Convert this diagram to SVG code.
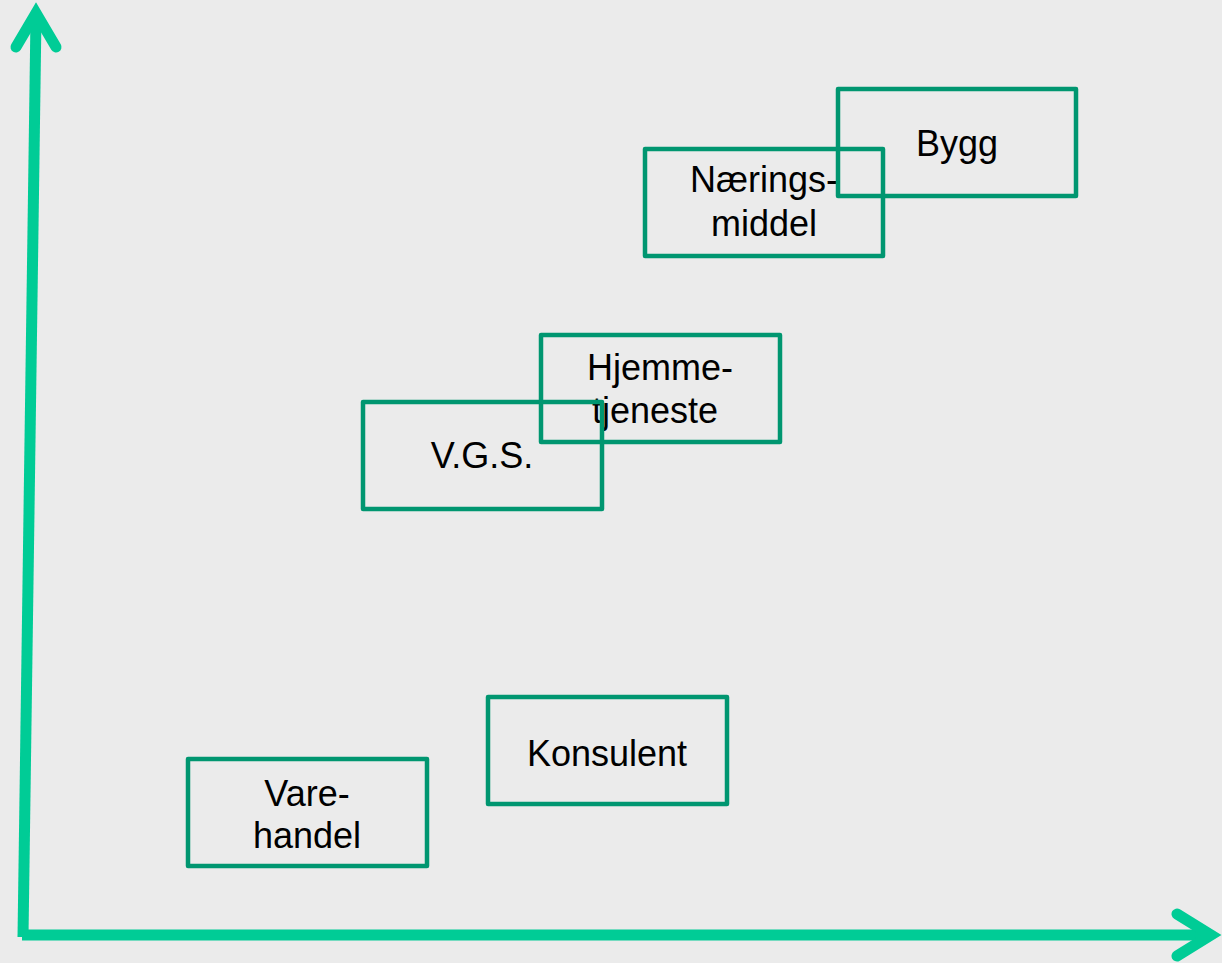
<svg xmlns="http://www.w3.org/2000/svg" width="1222" height="963" viewBox="0 0 1222 963">
<style>
.box{fill:none;stroke:#009670;stroke-width:4.5;stroke-linejoin:round}
.lbl{font-family:"Liberation Sans",Arial,sans-serif;font-size:36px;fill:#000;text-anchor:middle}
.axis{fill:none;stroke:#00CC96;stroke-width:11}
.head{fill:none;stroke:#00CC96;stroke-width:11;stroke-linecap:round;stroke-linejoin:miter}
</style>
<rect width="1222" height="963" fill="#EBEBEB"/>
<g id="connectors">
<line class="axis" x1="23" y1="937" x2="36" y2="16"/>
<polyline class="head" points="16,47 36,13 56,47"/>
<line class="axis" x1="22" y1="935" x2="1212" y2="935"/>
<polyline class="head" points="1177,914 1211,935 1177,956"/>
</g>
<g id="node-naeringsmiddel">
<rect class="box" x="645" y="149" width="238" height="107"/>
<text class="lbl" x="764" y="192">Nærings-</text>
<text class="lbl" x="764" y="236">middel</text>
</g>
<g id="node-bygg">
<rect class="box" x="838" y="89" width="238" height="107"/>
<text class="lbl" x="957" y="156">Bygg</text>
</g>
<g id="node-hjemmetjeneste">
<rect class="box" x="541" y="335" width="239" height="107"/>
<text class="lbl" x="660" y="380">Hjemme-</text>
<text class="lbl" x="655" y="423">tjeneste</text>
</g>
<g id="node-vgs">
<rect class="box" x="363" y="402" width="239" height="107"/>
<text class="lbl" x="482" y="468">V.G.S.</text>
</g>
<g id="node-konsulent">
<rect class="box" x="488" y="697" width="239" height="107"/>
<text class="lbl" x="607" y="766">Konsulent</text>
</g>
<g id="node-varehandel">
<rect class="box" x="188" y="759" width="239" height="107"/>
<text class="lbl" x="307" y="806">Vare-</text>
<text class="lbl" x="307" y="848">handel</text>
</g>
</svg>
